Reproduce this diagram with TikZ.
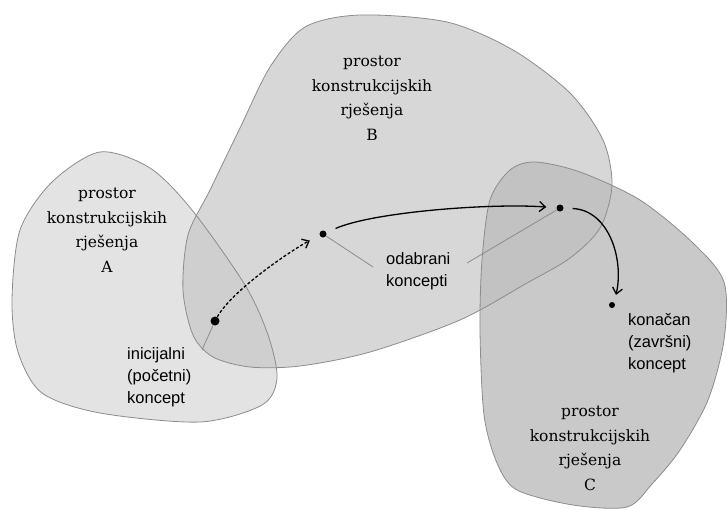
\documentclass[tikz,border=0pt]{standalone}
\usepackage{fontspec}
\newfontfamily\prostorfont{DejaVu Serif}
\newfontfamily\opisfont{Liberation Sans}
\usepackage{tikz}
\usetikzlibrary{positioning,arrows.meta}

\definecolor{sivaA}{gray}{0.89}
\definecolor{sivaB}{gray}{0.845}
\definecolor{sivaC}{gray}{0.79}
\definecolor{sivaAB}{gray}{0.81}
\definecolor{sivaBC}{gray}{0.76}

\def\obrisA{plot[smooth cycle] coordinates {(100,152) (150,168) (192,210) (245,285) (268,335) (277,378) (262,405) (200,422) (100,413) (42,393) (18,352) (12,300) (20,230) (52,182)}}
\def\obrisB{plot[smooth cycle] coordinates {(360,15) (447,22) (513,50) (570,93) (603,140) (612,185) (600,228) (570,258) (527,283) (460,320) (370,352) (300,366) (250,367) (213,357) (193,335) (183,290) (188,235) (210,190) (240,128) (270,67) (305,27)}}
\def\obrisC{plot[smooth cycle] coordinates {(480,330) (482,260) (490,200) (510,170) (535,162) (580,172) (640,200) (693,243) (724,282) (724,340) (708,400) (680,450) (652,484) (627,507) (573,505) (517,490) (497,463) (484,415)}}

\tikzset{
    tocka/.style={circle, fill=black, inner sep=0pt, minimum size=#1},
    rub/.style={draw=black!45, line width=.8pt},
    put/.style={-{Straight Barb[length=6pt,width=10pt]}, line width=1.3pt},
    naslov/.style={font=\prostorfont\fontsize{15.5}{24.5}\selectfont, align=center, inner sep=0pt},
    opis/.style={font=\opisfont\fontsize{16.5}{22}\selectfont, align=left, inner sep=0pt}
}

\begin{document}
\begin{tikzpicture}[x=1pt,y=-1pt]
    \useasboundingbox (0,0) rectangle (727,509);

    \fill[sivaA] \obrisA;
    \fill[sivaB] \obrisB;
    \fill[sivaC] \obrisC;
    \begin{scope}
        \clip \obrisA;
        \fill[sivaAB] \obrisB;
    \end{scope}
    \begin{scope}
        \clip \obrisC;
        \fill[sivaBC] \obrisB;
    \end{scope}
    \draw[rub] \obrisA;
    \draw[rub] \obrisB;
    \draw[rub] \obrisC;

    \node[tocka=9pt] (ini) at (215,321) {};
    \node[tocka=7pt] (k1) at (323,234) {};
    \node[tocka=7pt] (k2) at (560,208) {};
    \node[tocka=6pt] (kraj) at (612,305) {};

    \coordinate (g0) at (202,350);
    \coordinate (g1) at (373,267);
    \coordinate (g2) at (467,263);
    \draw[rub] (ini) -- (g0);
    \draw[rub] (k1) -- (g1);
    \draw[rub] (k2) -- (g2);

    \draw[put, densely dashed, shorten >=11pt] (ini) .. controls +(18,-32) and +(-28,14) .. (k1);
    \draw[put, shorten <=10pt, shorten >=10pt] (k1) .. controls +(50,-22) and +(-70,-5) .. (k2);
    \draw[put, shorten <=9pt, shorten >=8pt] (k2) .. controls +(48,2) and +(10,-45) .. (kraj.north east);

    \node[naslov, anchor=base] (tA) at (107,272) {prostor\\konstrukcijskih\\rješenja\\A};
    \node[naslov, anchor=base] (tB) at (372,140) {prostor\\konstrukcijskih\\rješenja\\B};
    \node[naslov, anchor=base] (tC) at (590,490) {prostor\\konstrukcijskih\\rješenja\\C};

    \node[opis, anchor=base west] (tIni) at (127,403) {inicijalni\\(početni)\\koncept};
    \node[opis, anchor=base west] (tOdab) at (386,286) {odabrani\\koncepti};
    \node[opis, anchor=base west] (tKraj) at (628,369) {konačan\\(završni)\\koncept};
\end{tikzpicture}
\end{document}
